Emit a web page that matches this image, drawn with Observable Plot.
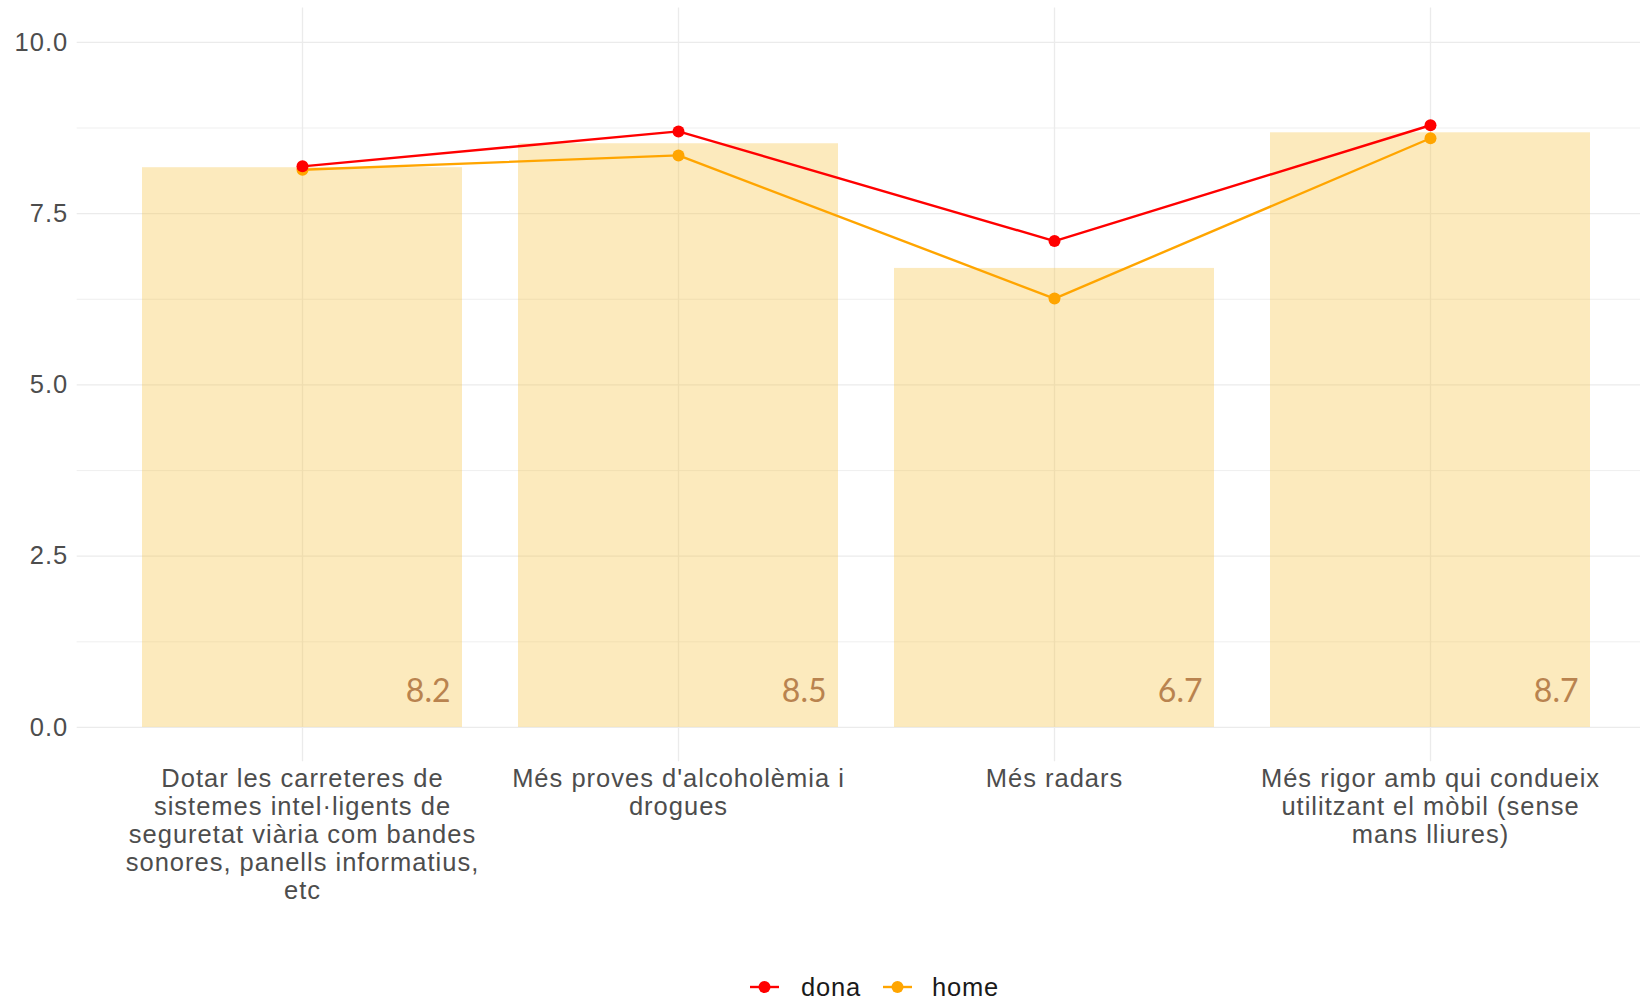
<!DOCTYPE html>
<html>
<head>
<meta charset="utf-8">
<script src="https://cdn.jsdelivr.net/npm/d3@7"></script>
<script src="https://cdn.jsdelivr.net/npm/@observablehq/plot@0.6"></script>
<style>
  html, body { margin: 0; padding: 0; background: #fff; overflow: hidden; width: 1640px; height: 998px; }
  #chart { position: absolute; left: 0; top: 0; }
  #chart svg text { letter-spacing: 1px; }
  #chart svg g.barlbl text { letter-spacing: 0; }
  .legend { position: absolute; top: 0; left: 0; font-family: "Liberation Sans", sans-serif; font-size: 25.5px; color: #1a1a1a; letter-spacing: 0.8px; }
  .legend .sym { position: absolute; }
  .legend .lab { position: absolute; line-height: 25px; white-space: nowrap; }
</style>
</head>
<body>
<div id="chart"></div>
<div class="legend" id="legend"></div>
<script>
// ---- data ----
const categories = [
  "Dotar les carreteres de sistemes intel·ligents de seguretat viària com bandes sonores, panells informatius, etc",
  "Més proves d'alcoholèmia i drogues",
  "Més radars",
  "Més rigor amb qui condueix utilitzant el mòbil (sense mans lliures)"
];
const categoryLabels = [
  "Dotar les carreteres de\nsistemes intel·ligents de\nseguretat viària com bandes\nsonores, panells informatius,\netc",
  "Més proves d'alcoholèmia i\ndrogues",
  "Més radars",
  "Més rigor amb qui condueix\nutilitzant el mòbil (sense\nmans lliures)"
];
const barValues = [8.17, 8.52, 6.70, 8.68];
const barLabels = ["8.2", "8.5", "6.7", "8.7"];
const seriesNames = ["dona", "home"];
const seriesColors = ["#ff0000", "#ffa500"];
const donaValues = [8.19, 8.70, 7.10, 8.79];
const homeValues = [8.14, 8.35, 6.26, 8.60];
const yMajorTicks = [0, 2.5, 5, 7.5, 10];
const yMinorTicks = [1.25, 3.75, 6.25, 8.75];

// ---- tables built from the arrays ----
const bars = categories.map((c, i) => ({cat: c, value: barValues[i], label: barLabels[i]}));
const points = [];
categories.forEach((c, i) => points.push({cat: c, series: "home", value: homeValues[i]}));
categories.forEach((c, i) => points.push({cat: c, series: "dona", value: donaValues[i]}));

const W = 1640, H = 968;
const marginLeft = 76.7, marginRight = 0, marginTop = 7.6;
const panelBottom = 761.2;
const step = 376.5, paddingInner = 0.15;
const bandwidth = step * (1 - paddingInner);

const chart = Plot.plot({
  width: W,
  height: H,
  marginLeft, marginRight, marginTop,
  marginBottom: H - panelBottom,
  style: {fontFamily: "'Liberation Sans', Arial, sans-serif", fontSize: "25.5px", color: "#4d4d4d", background: "#fff"},
  x: {type: "band", domain: categories, paddingInner, paddingOuter: 0.1511, align: 0.567, label: null},
  y: {domain: [-0.5, 10.5], label: null},
  color: {domain: seriesNames, range: seriesColors},
  marks: [
    Plot.gridY(yMinorTicks, {stroke: "#ebebeb", strokeOpacity: 1, strokeWidth: 0.8}),
    Plot.gridY(yMajorTicks, {stroke: "#ebebeb", strokeOpacity: 1, strokeWidth: 1.3}),
    Plot.gridX({stroke: "#ebebeb", strokeOpacity: 1, strokeWidth: 1.3}),
    Plot.barY(bars, {x: "cat", y1: d => 0, y2: "value", fill: "#f5c242", fillOpacity: 0.35}),
    Plot.text(bars, {x: "cat", y: d => 0, text: "label", textAnchor: "end", lineAnchor: "bottom",
      dx: bandwidth / 2 - 12, dy: -25.5, fill: "#b9834f", fontSize: 32, fontFamily: "Lato, sans-serif", className: "barlbl"}),
    Plot.line(points, {x: "cat", y: "value", z: "series", stroke: "series", strokeWidth: 2.4}),
    Plot.dot(points, {x: "cat", y: "value", fill: "series", r: 6}),
    Plot.axisY({ticks: yMajorTicks, tickFormat: d => d.toFixed(1), tickSize: 0, tickPadding: 9, label: null, fontSize: 25.5}),
    Plot.axisX({tickSize: 0, tickPadding: 5, label: null, lineHeight: 1.1, fontSize: 25.5,
      tickFormat: d => categoryLabels[categories.indexOf(d)]})
  ]
});
document.getElementById("chart").appendChild(chart);

// ---- legend ----
const legend = d3.select("#legend");
const legendItems = [
  {name: seriesNames[0], color: seriesColors[0], symX: 750, textX: 801},
  {name: seriesNames[1], color: seriesColors[1], symX: 883, textX: 932}
];
legendItems.forEach(it => {
  const s = legend.append("svg").attr("class", "sym").attr("width", 30).attr("height", 16)
    .style("left", it.symX + "px").style("top", "979px");
  s.append("line").attr("x1", 0).attr("x2", 29).attr("y1", 8).attr("y2", 8)
    .attr("stroke", it.color).attr("stroke-width", 2.4);
  s.append("circle").attr("cx", 14.5).attr("cy", 8).attr("r", 6).attr("fill", it.color);
  legend.append("div").attr("class", "lab").style("left", it.textX + "px").style("top", "975px").text(it.name);
});
</script>
</body>
</html>
